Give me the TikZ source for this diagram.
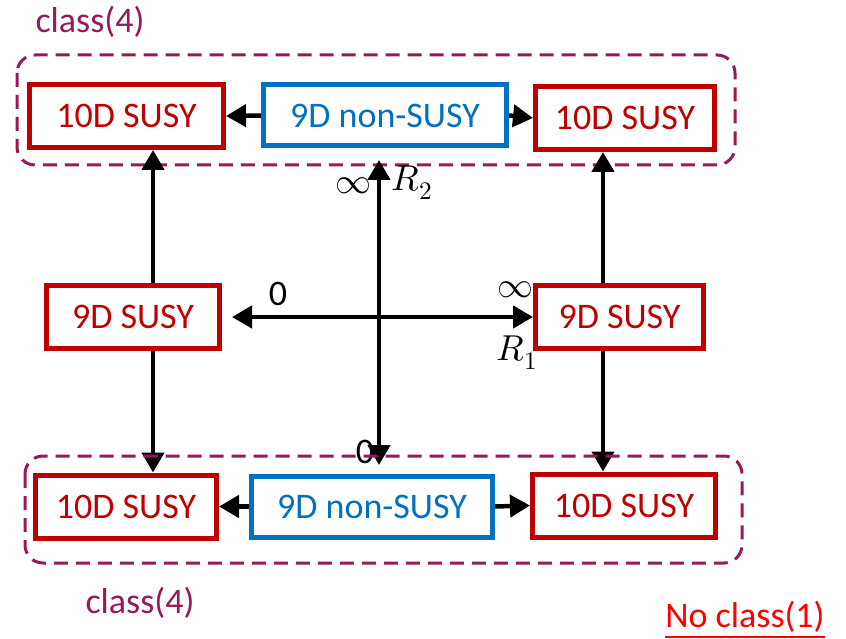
\documentclass[tikz,border=0pt]{standalone}
\usepackage{fontspec}
\usepackage{unicode-math}
\setmainfont{Carlito}
\setmathfont{Latin Modern Math}
\usetikzlibrary{calc,arrows.meta}
\definecolor{SusyRed}{RGB}{192,0,0}
\definecolor{NonBlue}{RGB}{0,112,192}
\definecolor{ClassPlum}{RGB}{150,25,90}
\definecolor{NoRed}{RGB}{255,0,0}
\tikzset{
  susy/.style={draw=SusyRed,line width=5pt,fill=white,text=SusyRed,minimum height=63pt,inner sep=0pt},
  nonsusy/.style={draw=NonBlue,line width=5pt,fill=white,text=NonBlue,minimum height=61pt,inner sep=0pt},
  grp/.style={draw=ClassPlum,line width=3pt,dash pattern=on 14pt off 8pt,rounded corners=18pt},
  arr/.style={line width=4.5pt,-{Triangle[length=20pt,width=22pt]}},
  arrs/.style={line width=4.5pt,{Triangle[length=20pt,width=22pt]}-{Triangle[length=20pt,width=22pt]}},
  lab/.style={inner sep=0pt},
}

\begin{document}
\begin{tikzpicture}[x=1pt,y=-1pt,font=\fontsize{36}{40}\selectfont]
\useasboundingbox (0,0) rectangle (846,639);
% top group
\draw[grp] (17,55) rectangle (735,165);
\node[lab,text=ClassPlum] (ctop) at (90,22) {class(4)};
\node[lab,text=ClassPlum] (cbot) at (140,603) {class(4)};
\node[lab,text=NoRed] (nocl) at (745,620) {\underline{No class(1)}};
% top row
\node[susy,minimum width=194pt] (tl) at (126.5,116) {10D SUSY};
\node[nonsusy,minimum width=243pt] (tb) at (385,115.5) {9D non-SUSY};
\node[susy,minimum width=179pt] (tr) at (625,118) {10D SUSY};
% middle row
\node[susy,minimum width=173pt] (ml) at (133,317) {9D SUSY};
\node[susy,minimum width=168pt] (mr) at (619.5,317) {9D SUSY};
% bottom row
\node[susy,minimum width=181pt] (bl) at (126,506.5) {10D SUSY};
\node[nonsusy,minimum width=241pt] (bb) at (372,506.5) {9D non-SUSY};
\node[susy,minimum width=183pt] (br) at (624,505.5) {10D SUSY};
% arrows
\draw[arr] (tb.west) -- (tl.east);
\draw[arr] (tb.east) -- (tr.west);
\draw[arr] (bb.west) -- (bl.east);
\draw[arr] (bb.east) -- (br.west);
\draw[arr] ($(ml.north)+(20,0)$) -- ($(ml.north |- tl.south)+(20,0)$);
\draw[arr] ($(ml.south)+(20,0)$) -- ($(ml.south |- bl.north)+(20,0)$);
\draw[arr] ($(mr.north)+(-16.5,0)$) -- ($(mr.north |- tr.south)+(-16.5,0)$);
\draw[arr] ($(mr.south)+(-16.5,0)$) -- ($(mr.south |- br.north)+(-16.5,0)$);
\coordinate (rtop) at (379,160);
\coordinate (rbot) at (379,465);
\draw[arrs] (rbot) -- (rtop);
\draw[arrs,shorten <=10pt] (ml.east) -- (mr.west);
% labels
\node[lab] (inf2) at (353,186) {$\infty$};
\node[lab] (rtwo) at (412,183) {$R_2$};
\node[lab] (zero1) at (278,294) {0};
\node[lab] (inf1) at (515,290) {$\infty$};
\node[lab] (rone) at (517,353) {$R_1$};
\node[lab] (zero2) at (365,452) {0};
% bottom group, over the arrows
\draw[grp] (25,456) rectangle (742,563);
\end{tikzpicture}
\end{document}
